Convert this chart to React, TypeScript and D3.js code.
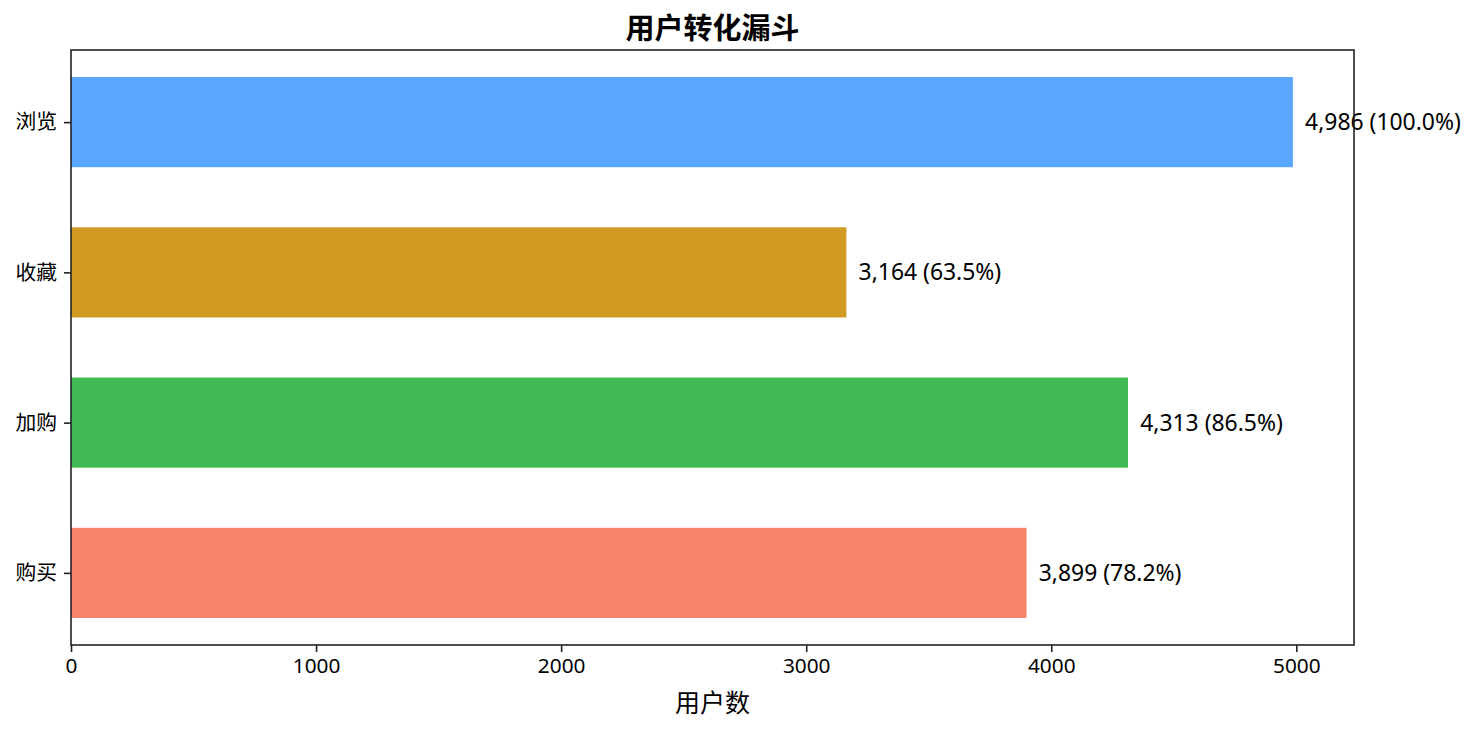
import { useEffect, useRef } from "react";
import * as d3 from "d3";

const STAGES = ["浏览", "收藏", "加购", "购买"];
const USERS = [4986, 3164, 4313, 3899];
const COLORS = ["#58A6FF", "#D29A22", "#41BA53", "#F7836A"];
const X_TICKS = [0, 1000, 2000, 3000, 4000, 5000];

const FONT = "'Noto Sans', 'Noto Sans CJK SC', sans-serif";

export default function App() {
  const svgRef = useRef<SVGSVGElement>(null);

  useEffect(() => {
    if (!svgRef.current) return;
    const W = 1481;
    const H = 731;
    const m = { top: 50, right: 127, bottom: 86, left: 71 };
    const iW = W - m.left - m.right;
    const iH = H - m.top - m.bottom;

    const root = d3.select(svgRef.current);
    root.selectAll("*").remove();
    root.attr("width", W).attr("height", H);

    const svg = root.append("g").attr("transform", `translate(${m.left},${m.top})`);

    const maxV = d3.max(USERS)!;
    const x = d3.scaleLinear().domain([0, maxV * 1.05]).range([0, iW]);
    // bar height 0.6 with a 5% margin, like matplotlib barh
    const y = d3.scaleLinear().domain([-0.48, STAGES.length - 1 + 0.48]).range([0, iH]);
    const bh = y(0.3) - y(-0.3);

    // bars
    svg.selectAll(".bar")
      .data(USERS)
      .join("rect")
      .attr("x", x(0))
      .attr("y", (_, i) => y(i) - bh / 2)
      .attr("width", d => x(d) - x(0))
      .attr("height", bh)
      .attr("fill", (_, i) => COLORS[i]);

    // value labels
    svg.selectAll(".lbl")
      .data(USERS)
      .join("text")
      .attr("x", d => x(d + maxV * 0.01))
      .attr("y", (_, i) => y(i))
      .attr("dy", "0.35em")
      .style("font-family", FONT)
      .style("font-size", "22.9px")
      .attr("fill", "#000")
      .text(d => `${d3.format(",")(d)} (${((d / USERS[0]) * 100).toFixed(1)}%)`);

    // x axis
    const xa = svg.append("g")
      .attr("transform", `translate(0,${iH})`)
      .call(d3.axisBottom(x).tickValues(X_TICKS).tickFormat(d3.format("d")).tickSize(7).tickPadding(6));
    xa.select(".domain").remove();
    xa.selectAll("line").attr("stroke", "#222").attr("stroke-width", 1.6);
    xa.selectAll("text").style("font-family", FONT).style("font-size", "20.8px").attr("fill", "#000");

    // y axis
    const ya = svg.append("g")
      .call(d3.axisLeft(y).tickValues(STAGES.map((_, i) => i)).tickFormat(i => STAGES[i as number]).tickSize(7).tickPadding(7));
    ya.select(".domain").remove();
    ya.selectAll("line").attr("stroke", "#222").attr("stroke-width", 1.6);
    ya.selectAll("text").style("font-family", FONT).style("font-size", "20.8px").attr("fill", "#000");

    // frame
    svg.append("rect")
      .attr("x", 0).attr("y", 0).attr("width", iW).attr("height", iH)
      .attr("fill", "none").attr("stroke", "#222").attr("stroke-width", 1.6);

    // title
    root.append("text")
      .attr("x", m.left + iW / 2).attr("y", 29)
      .attr("text-anchor", "middle").attr("dy", "0.35em")
      .style("font-family", FONT).style("font-size", "29px").style("font-weight", "bold")
      .text("用户转化漏斗");

    // x label
    root.append("text")
      .attr("x", m.left + iW / 2).attr("y", 703)
      .attr("text-anchor", "middle").attr("dy", "0.35em")
      .style("font-family", FONT).style("font-size", "25px")
      .text("用户数");
  }, []);

  return (
    <div style={{ position: "absolute", left: 0, top: 0, background: "#fff" }}>
      <svg ref={svgRef} style={{ display: "block" }} />
    </div>
  );
}
